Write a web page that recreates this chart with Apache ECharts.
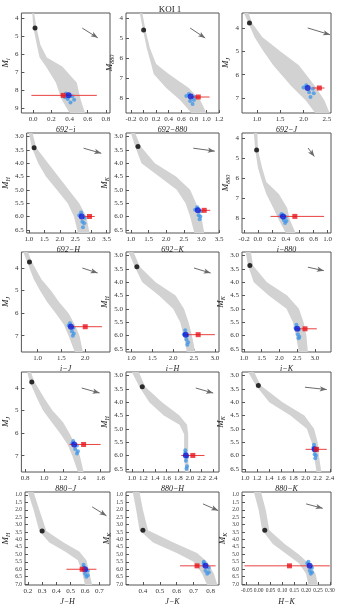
<!DOCTYPE html>
<html>
<head>
<meta charset="utf-8">
<script src="https://cdn.jsdelivr.net/npm/echarts@6/dist/echarts.min.js"></script>
<style>
html, body { margin: 0; padding: 0; background: #fff; }
#chart { width: 340px; height: 607px; }
</style>
</head>
<body>
<div id="chart"></div>
<script>
// panel order: row by row, left to right
const xNames = ['692\u2212i', '692\u2212880', '692\u2212J', '692\u2212H', '692\u2212K', 'i\u2212880',
  'i\u2212J', 'i\u2212H', 'i\u2212K', '880\u2212J', '880\u2212H', '880\u2212K', 'J\u2212H', 'J\u2212K', 'H\u2212K'];
const yNames = ['i', '880', 'J', 'H', 'K', '880', 'J', 'H', 'K', 'J', 'H', 'K', 'H', 'K', 'K'];

const xRanges = [[-0.13, 0.845], [-0.28, 1.2], [0.68, 2.59], [0.93, 3.61], [0.86, 3.5], [-0.23, 1.05],
  [0.66, 2.52], [0.87, 3.1], [0.95, 3.45], [0.76, 1.70], [0.9, 2.5], [0.95, 2.42],
  [0.18, 0.775], [0.3, 0.85], [-0.07, 0.305]];
const yRanges = [[3.72, 9.28], [3.75, 8.75], [3.36, 7.64], [2.87, 6.62], [2.87, 6.62], [3.75, 8.75],
  [3.29, 7.72], [2.87, 6.62], [2.87, 6.62], [3.29, 7.72], [2.87, 6.62], [2.87, 6.62],
  [0.8, 7.06], [0.8, 7.06], [0.8, 7.06]];

const xTicks = [
  [0.0, 0.2, 0.4, 0.6, 0.8], [-0.2, 0.0, 0.2, 0.4, 0.6, 0.8, 1.0, 1.2], [1.0, 1.5, 2.0, 2.5],
  [1.0, 1.5, 2.0, 2.5, 3.0, 3.5], [1.0, 1.5, 2.0, 2.5, 3.0, 3.5], [-0.2, 0.0, 0.2, 0.4, 0.6, 0.8, 1.0],
  [1.0, 1.5, 2.0], [1.0, 1.5, 2.0, 2.5, 3.0], [1.0, 1.5, 2.0, 2.5, 3.0, 3.5],
  [0.8, 1.0, 1.2, 1.4, 1.6], [1.0, 1.2, 1.4, 1.6, 1.8, 2.0, 2.2, 2.4], [1.0, 1.2, 1.4, 1.6, 1.8, 2.0, 2.2, 2.4],
  [0.2, 0.3, 0.4, 0.5, 0.6, 0.7], [0.4, 0.5, 0.6, 0.7, 0.8], [-0.05, 0.0, 0.05, 0.1, 0.15, 0.2, 0.25, 0.3]];
const xDecimals = [1, 1, 1, 1, 1, 1, 1, 1, 1, 1, 1, 1, 1, 1, 2];

const magInt = [4, 5, 6, 7, 8, 9];
const magHalf = [3.0, 3.5, 4.0, 4.5, 5.0, 5.5, 6.0, 6.5];
const magWide = [1.0, 1.5, 2.0, 2.5, 3.0, 3.5, 4.0, 4.5, 5.0, 5.5, 6.0, 6.5, 7.0];
const yTicks = [magInt, [4, 5, 6, 7, 8], [4, 5, 6, 7], magHalf, magHalf, [4, 5, 6, 7, 8],
  [4, 5, 6, 7], magHalf, magHalf, [4, 5, 6, 7], magHalf, magHalf, magWide, magWide, magWide];
const yDecimals = [0, 0, 0, 1, 1, 0, 0, 1, 1, 0, 1, 1, 1, 1, 1];

// [colour, magnitude]
const blackDots = [[0.02, 4.55], [0.0, 4.6], [0.84, 3.79], [1.17, 3.42], [1.2, 3.38], [-0.02, 4.6],
  [0.83, 3.73], [1.13, 3.42], [1.17, 3.38], [0.87, 3.73], [1.18, 3.42], [1.22, 3.38],
  [0.3, 3.42], [0.4, 3.38], [0.026, 3.38]];
const blueDots = [[0.39, 8.3], [0.75, 7.93], [2.09, 6.57], [2.7, 6.0], [2.9, 5.77], [0.36, 7.92],
  [1.7, 6.6], [2.3, 5.97], [2.5, 5.75], [1.32, 6.5], [1.93, 6.0], [2.15, 5.77],
  [0.6, 6.0], [0.77, 5.77], [0.215, 5.77]];
const redDots = [[0.33, 8.3], [0.87, 7.95], [2.34, 6.57], [2.95, 6.0], [3.08, 5.77], [0.53, 7.92],
  [2.0, 6.6], [2.6, 5.97], [2.72, 5.75], [1.42, 6.5], [2.05, 6.0], [2.18, 5.77],
  [0.58, 6.0], [0.72, 5.77], [0.13, 5.77]];
const redErr = [[-0.02, 0.7], [0.75, 1.05], [2.2, 2.45], [2.8, 3.12], [2.95, 3.25], [0.18, 0.95],
  [1.68, 2.35], [2.3, 3.0], [2.45, 3.05], [1.27, 1.6], [1.85, 2.25], [2.0, 2.35],
  [0.47, 0.68], [0.62, 0.83], [-0.06, 0.3]];
// [x0, y0, x1, y1]
const arrows = [[0.54, 4.56, 0.71, 5.1], [0.74, 4.5, 0.98, 5.0], [2.09, 4.0, 2.57, 4.29],
  [2.76, 3.44, 3.33, 3.63], [2.77, 3.44, 3.38, 3.55], [0.72, 4.5, 0.81, 4.92],
  [1.94, 4.0, 2.26, 4.22], [2.5, 3.47, 2.9, 3.66], [2.8, 3.44, 3.25, 3.57],
  [1.4, 4.0, 1.59, 4.22], [2.1, 3.47, 2.4, 3.66], [1.99, 3.44, 2.35, 3.53],
  [0.65, 1.8, 0.75, 2.4], [0.755, 1.6, 0.845, 2.05], [0.2, 1.6, 0.27, 1.9]];

// isochrone band: [magnitude, left colour, right colour]
const bands = [
  [[3.72, -0.01, 0.01], [4.5, 0.0, 0.035], [5.5, 0.04, 0.08], [6.2, 0.07, 0.15], [6.7, 0.14, 0.32], [7.6, 0.25, 0.48], [8.5, 0.31, 0.52], [9.28, 0.4, 0.57]],
  [[3.75, -0.06, -0.02], [4.6, -0.01, 0.03], [5.5, 0.05, 0.1], [6.3, 0.12, 0.2], [6.8, 0.16, 0.4], [7.5, 0.36, 0.72], [8.1, 0.58, 0.9], [8.75, 0.76, 1.0]],
  [[3.36, 0.72, 0.82], [3.8, 0.82, 0.9], [4.4, 0.95, 1.12], [5.0, 1.14, 1.5], [5.6, 1.35, 1.9], [6.5, 1.74, 2.25], [7.1, 2.05, 2.45], [7.64, 2.25, 2.56]],
  [[2.87, 1.0, 1.12], [3.42, 1.1, 1.24], [4.0, 1.3, 1.62], [4.5, 1.55, 1.95], [5.0, 1.9, 2.28], [5.5, 2.25, 2.62], [6.0, 2.45, 2.85], [6.62, 2.58, 2.95]],
  [[2.87, 1.0, 1.12], [3.38, 1.12, 1.28], [4.0, 1.3, 1.68], [4.5, 1.8, 2.28], [5.0, 2.3, 2.68], [5.5, 2.55, 2.85], [6.0, 2.68, 3.0], [6.62, 2.8, 3.08]],
  [[3.75, -0.06, -0.01], [4.6, -0.04, 0.0], [5.5, 0.0, 0.06], [6.2, 0.06, 0.12], [6.8, 0.12, 0.3], [7.5, 0.22, 0.42], [8.1, 0.3, 0.46], [8.75, 0.4, 0.54]],
  [[3.29, 0.7, 0.8], [3.73, 0.78, 0.88], [4.5, 0.92, 1.08], [5.0, 1.05, 1.28], [5.5, 1.2, 1.45], [6.0, 1.38, 1.65], [6.5, 1.55, 1.78], [7.0, 1.65, 1.88], [7.72, 1.78, 1.95]],
  [[2.87, 0.93, 1.05], [3.42, 1.08, 1.2], [4.0, 1.26, 1.58], [4.5, 1.66, 2.06], [5.0, 2.0, 2.26], [5.5, 2.17, 2.37], [6.0, 2.25, 2.45], [6.62, 2.33, 2.53]],
  [[2.87, 1.05, 1.2], [3.38, 1.12, 1.26], [4.0, 1.28, 1.65], [4.5, 1.7, 2.22], [5.0, 2.2, 2.55], [5.5, 2.38, 2.68], [6.0, 2.46, 2.76], [6.62, 2.55, 2.8]],
  [[3.29, 0.82, 0.86], [3.73, 0.85, 0.9], [4.5, 0.93, 1.01], [5.0, 0.99, 1.09], [5.5, 1.08, 1.2], [6.0, 1.17, 1.27], [6.5, 1.25, 1.33], [7.0, 1.3, 1.38], [7.72, 1.36, 1.42]],
  [[2.87, 1.0, 1.12], [3.42, 1.13, 1.23], [4.0, 1.3, 1.52], [4.5, 1.55, 1.82], [4.85, 1.82, 1.95], [5.2, 1.9, 1.97], [6.0, 1.9, 1.97], [6.62, 1.92, 1.98]],
  [[2.87, 1.05, 1.15], [3.38, 1.18, 1.26], [4.0, 1.4, 1.62], [4.5, 1.75, 1.98], [5.0, 2.02, 2.14], [5.5, 2.1, 2.2], [6.0, 2.14, 2.22], [6.62, 2.18, 2.26]],
  [[0.8, 0.2, 0.24], [2.0, 0.24, 0.28], [3.42, 0.28, 0.33], [4.2, 0.35, 0.45], [4.8, 0.46, 0.56], [5.4, 0.55, 0.61], [6.2, 0.58, 0.63], [7.06, 0.6, 0.65]],
  [[0.8, 0.34, 0.38], [2.0, 0.36, 0.4], [3.38, 0.38, 0.43], [4.2, 0.46, 0.58], [4.9, 0.6, 0.72], [5.5, 0.7, 0.78], [6.3, 0.75, 0.82], [7.06, 0.78, 0.84]],
  [[0.8, -0.02, 0.01], [2.0, 0.0, 0.03], [3.38, 0.015, 0.045], [4.3, 0.06, 0.11], [5.0, 0.12, 0.17], [5.6, 0.17, 0.21], [6.3, 0.2, 0.24], [7.06, 0.21, 0.25]]];

// posterior samples round the blue point
const clouds = [
  [[0.36, 8.2], [0.43, 8.35], [0.38, 8.5], [0.41, 8.7], [0.35, 8.4], [0.45, 8.55]],
  [[0.68, 7.9], [0.82, 7.95], [0.74, 8.15], [0.78, 8.3], [0.72, 7.8], [0.8, 8.1]],
  [[2.0, 6.55], [2.2, 6.6], [2.12, 6.75], [2.15, 6.95], [2.06, 6.45], [2.22, 6.8]],
  [[2.62, 5.95], [2.8, 6.05], [2.72, 6.2], [2.74, 6.4], [2.68, 5.85], [2.78, 6.25]],
  [[2.82, 5.75], [2.98, 5.8], [2.92, 5.95], [2.95, 6.1], [2.88, 5.65], [2.97, 6.0]],
  [[0.32, 7.9], [0.4, 7.95], [0.37, 8.1], [0.39, 8.25], [0.34, 7.8], [0.41, 8.15]],
  [[1.65, 6.55], [1.75, 6.65], [1.72, 6.8], [1.74, 7.0], [1.68, 6.45], [1.76, 6.9]],
  [[2.26, 5.95], [2.34, 6.0], [2.32, 6.15], [2.34, 6.35], [2.29, 5.8], [2.36, 6.25]],
  [[2.45, 5.72], [2.55, 5.78], [2.52, 5.95], [2.54, 6.1], [2.48, 5.6], [2.56, 6.05]],
  [[1.3, 6.45], [1.35, 6.55], [1.33, 6.7], [1.35, 6.9], [1.31, 6.35], [1.36, 6.8]],
  [[1.92, 5.9], [1.95, 6.05], [1.93, 6.2], [1.95, 6.4], [1.92, 5.8], [1.94, 6.5]],
  [[2.13, 5.7], [2.17, 5.8], [2.15, 5.95], [2.16, 6.1], [2.14, 5.6], [2.17, 6.0]],
  [[0.59, 5.85], [0.62, 6.1], [0.6, 6.3], [0.61, 6.5], [0.59, 5.7], [0.62, 6.4]],
  [[0.76, 5.6], [0.79, 5.9], [0.77, 6.1], [0.78, 6.3], [0.76, 5.5], [0.79, 6.2]],
  [[0.205, 5.6], [0.225, 5.9], [0.215, 6.1], [0.22, 6.3], [0.21, 5.5], [0.225, 6.2]]];

const serif = 'Liberation Serif';
const colLeft = [15, 126, 242];
const colWidth = [95, 93, 89];
const rowTop = [13, 133, 252, 372, 492];
const panelH = 100;

const grid = [], xAxis = [], yAxis = [], series = [];

for (let i = 0; i < 15; i++) {
  const r = Math.floor(i / 3), c = i % 3;
  grid.push({
    left: colLeft[c], top: rowTop[r], width: colWidth[c], height: panelH,
    show: true, borderColor: '#555', borderWidth: 1, backgroundColor: 'transparent'
  });
  xAxis.push({
    gridIndex: i, type: 'value', min: xRanges[i][0], max: xRanges[i][1],
    name: xNames[i], nameLocation: 'middle', nameGap: 13,
    nameTextStyle: { fontFamily: serif, fontStyle: 'italic', fontSize: 8, color: '#222' },
    axisLine: { show: false, onZero: false }, splitLine: { show: false },
    axisTick: { inside: true, length: 3, customValues: xTicks[i], lineStyle: { color: '#555' } },
    axisLabel: {
      customValues: xTicks[i], fontFamily: serif, fontSize: i === 14 ? 5.5 : 7, color: '#333', margin: 3,
      formatter: v => v.toFixed(xDecimals[i])
    }
  });
  yAxis.push({
    gridIndex: i, type: 'value', inverse: true, min: yRanges[i][0], max: yRanges[i][1],
    name: '{m|M}{s|' + yNames[i] + '}', nameLocation: 'middle', nameGap: yDecimals[i] ? 14 : 9,
    nameTextStyle: {
      rich: {
        m: { fontFamily: serif, fontStyle: 'italic', fontSize: 9, color: '#222' },
        s: { fontFamily: serif, fontStyle: 'italic', fontSize: 6, color: '#222', padding: [5, 0, 0, 0] }
      }
    },
    axisLine: { show: false, onZero: false }, splitLine: { show: false },
    axisTick: { inside: true, length: 3, customValues: yTicks[i], lineStyle: { color: '#555' } },
    axisLabel: {
      customValues: yTicks[i], fontFamily: serif, fontSize: r === 4 ? 5.5 : 7, color: '#333', margin: 3,
      formatter: v => v.toFixed(yDecimals[i])
    }
  });

  const band = bands[i];
  series.push({
    type: 'custom', xAxisIndex: i, yAxisIndex: i, data: [0], silent: true, clip: true, z: 1,
    renderItem: (params, api) => {
      const left = band.map(p => api.coord([p[1], p[0]]));
      const right = band.slice().reverse().map(p => api.coord([p[2], p[0]]));
      return { type: 'polygon', shape: { points: left.concat(right) }, style: { fill: '#d2d2d2' } };
    }
  });
  series.push({
    type: 'scatter', xAxisIndex: i, yAxisIndex: i, data: clouds[i], symbolSize: 4, z: 2,
    itemStyle: { color: '#3b94ea', opacity: 0.75 }, silent: true
  });
  series.push({
    type: 'line', xAxisIndex: i, yAxisIndex: i, symbol: 'none', silent: true, z: 3,
    data: [[redErr[i][0], redDots[i][1]], [redErr[i][1], redDots[i][1]]],
    lineStyle: { color: '#e8413f', width: 1 }
  });
  series.push({
    type: 'scatter', xAxisIndex: i, yAxisIndex: i, data: [blueDots[i]], symbolSize: 6, z: 4,
    itemStyle: { color: '#0a1ad6' }, silent: true
  });
  series.push({
    type: 'scatter', xAxisIndex: i, yAxisIndex: i, data: [redDots[i]], symbol: 'rect', symbolSize: 5, z: 5,
    itemStyle: { color: '#e8141c' }, silent: true
  });
  series.push({
    type: 'scatter', xAxisIndex: i, yAxisIndex: i, data: [blackDots[i]], symbolSize: 5, z: 5,
    itemStyle: { color: '#000' }, silent: true,
    markLine: {
      silent: true, animation: false, symbol: ['none', 'arrow'], symbolSize: [4, 7],
      label: { show: false },
      lineStyle: { color: '#6b6b6b', type: 'solid', width: 1 },
      data: [[{ coord: [arrows[i][0], arrows[i][1]] }, { coord: [arrows[i][2], arrows[i][3]] }]]
    }
  });
}

const chart = echarts.init(document.getElementById('chart'));
chart.setOption({
  animation: false,
  title: {
    text: 'KOI 1', left: 'center', top: 0,
    textStyle: { fontFamily: serif, fontSize: 9, fontWeight: 'normal', color: '#222' }
  },
  grid: grid,
  xAxis: xAxis,
  yAxis: yAxis,
  series: series
});
</script>
</body>
</html>
